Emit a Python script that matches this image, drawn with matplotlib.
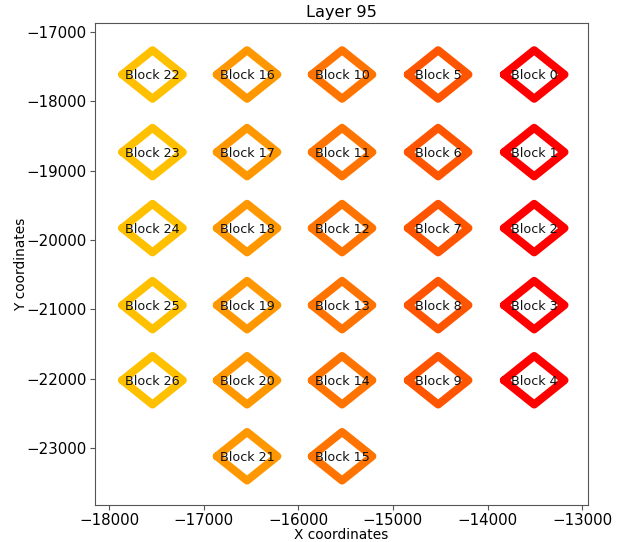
import matplotlib
matplotlib.use("Agg")
import matplotlib.pyplot as plt
import numpy as np

# Block centres (data units)
block_ids = list(range(27))
block_x = [-13507]*5 + [-14522]*5 + [-15537]*6 + [-16541]*6 + [-17540]*5
row_y = [-17613, -18732, -19828, -20939, -22022, -23118]
block_y = (row_y[:5] + row_y[:5] + row_y[:6] + row_y[:6] + row_y[:5])
block_colors = (['#ff0000']*5 + ['#ff5500']*5 + ['#ff7400']*6 +
                ['#ff9800']*6 + ['#ffc000']*5)
half_w = 320
half_h = 350

fig = plt.figure(figsize=(6.27, 5.42), dpi=100)
ax = fig.add_axes([0.1515, 0.068, 0.7865, 0.8896])

for bid, cx, cy, col in zip(block_ids, block_x, block_y, block_colors):
    xs = [cx - half_w, cx, cx + half_w, cx, cx - half_w]
    ys = [cy, cy + half_h, cy, cy - half_h, cy]
    ax.plot(xs, ys, color=col, lw=5.8, solid_joinstyle='round',
            solid_capstyle='round')
    ax.text(cx, cy - 20, f"Block {bid}", ha='center', va='center',
            fontsize=9.2, color='#111111')

ax.set_xlim(-18148, -12937)
ax.set_ylim(-23823, -16870)
ax.set_xticks([-18000, -17000, -16000, -15000, -14000, -13000])
ax.set_yticks([-17000, -18000, -19000, -20000, -21000, -22000, -23000])
ax.tick_params(labelsize=10.8, pad=2.5, color='#555555')
ax.set_xlabel("X coordinates", fontsize=9.9, labelpad=0)
ax.set_ylabel("Y coordinates", fontsize=9.9, labelpad=-1)
ax.set_title("Layer 95", fontsize=11.6, pad=4)
for s in ax.spines.values():
    s.set_color('#555555')

fig.savefig("out.png", dpi=100)
